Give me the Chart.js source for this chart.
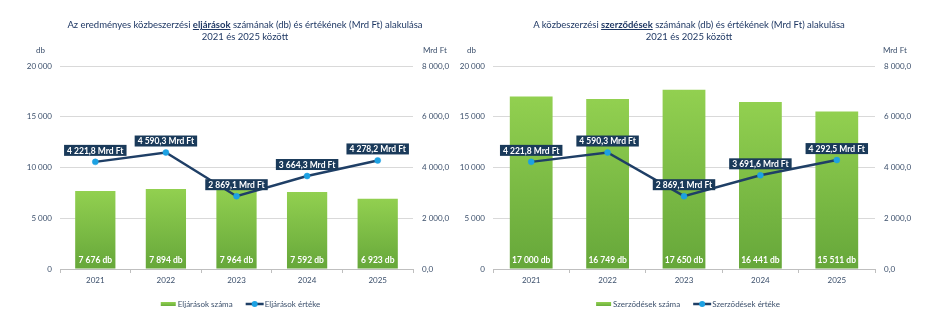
<!DOCTYPE html>
<html><head><meta charset="utf-8">
<script src="https://cdn.jsdelivr.net/npm/chart.js@4.4.1/dist/chart.umd.min.js"></script>
<style>
html,body{margin:0;padding:0;background:#fff;width:946px;height:331px;overflow:hidden;font-family:Lato,sans-serif;}
.wrap{position:absolute;top:0;height:331px;}
canvas{display:block;}
.title{position:absolute;text-align:center;color:#1F3864;font-size:9.5px;line-height:12px;white-space:nowrap;}
.title b{text-decoration:underline;}
.unit{position:absolute;top:45px;font-size:8px;line-height:10px;color:#3B4F6B;white-space:nowrap;}
</style></head>
<body>
<div class="wrap" style="left:0;width:455px"><canvas id="c1" width="455" height="331"></canvas></div>
<div class="wrap" style="left:455px;width:491px"><canvas id="c2" width="491" height="331"></canvas></div>
<div class="title" style="left:45px;width:400px;top:19px">Az eredményes közbeszerzési <b>eljárások</b> számának (db) és értékének (Mrd Ft) alakulása<br>2021 és 2025 között</div>
<div class="title" style="left:489px;width:400px;top:19px">A közbeszerzési <b>szerződések</b> számának (db) és értékének (Mrd Ft) alakulása<br>2021 és 2025 között</div>
<div class="unit" style="left:36px">db</div>
<div class="unit" style="left:423px">Mrd Ft</div>
<div class="unit" style="left:467px">db</div>
<div class="unit" style="left:883px">Mrd Ft</div>
<script>
const years = ['2021', '2022', '2023', '2024', '2025'];
const eljarasokSzama = [7676, 7894, 7964, 7592, 6923];
const eljarasokErteke = [4221.8, 4590.3, 2869.1, 3664.3, 4278.2];
const szerzodesekSzama = [17000, 16749, 17650, 16441, 15511];
const szerzodesekErteke = [4221.8, 4590.3, 2869.1, 3691.6, 4292.5];
const dbMax = 20000, dbStep = 5000;
const mrdMax = 8000, mrdStep = 2000;

function grp(s){ return s.replace(/\B(?=(\d{3})+(?!\d))/g, ' '); }
function fmtInt(v){ return grp(String(Math.round(v))); }
function fmtDec(v){ const p = v.toFixed(1).split('.'); return grp(p[0]) + ',' + p[1]; }

const TXT = '#3B4F6B';
const FONT = 'Lato';

const labelPlugin = {
  id: 'valueLabels',
  afterDatasetsDraw(chart){
    const ctx = chart.ctx;
    ctx.save();
    const mb = chart.getDatasetMeta(0);
    ctx.font = 'bold 8.5px ' + FONT;
    ctx.fillStyle = '#FFFFFF';
    ctx.textAlign = 'center';
    ctx.textBaseline = 'middle';
    mb.data.forEach((el, i) => {
      ctx.fillText(fmtInt(chart.data.datasets[0].data[i]) + ' db', el.x, el.base - 8);
    });
    const ml = chart.getDatasetMeta(1);
    ml.data.forEach((el, i) => {
      const t = fmtDec(chart.data.datasets[1].data[i]) + ' Mrd Ft';
      const w = ctx.measureText(t).width + 6;
      const h = 11;
      const bx = el.x - w / 2, by = el.y - 6 - h;
      ctx.fillStyle = '#1A3A5A';
      ctx.fillRect(bx, by, w, h);
      ctx.fillStyle = '#FFFFFF';
      ctx.fillText(t, el.x, by + h / 2 + 0.5);
    });
    ctx.restore();
  },
  afterDraw(chart){
    const ctx = chart.ctx;
    const ds = chart.data.datasets;
    ctx.save();
    ctx.font = '8px ' + FONT;
    ctx.textBaseline = 'middle';
    ctx.textAlign = 'left';
    const y = 304;
    const w0 = 15 + 2 + ctx.measureText(ds[0].label).width;
    const w1 = 18 + 1 + ctx.measureText(ds[1].label).width;
    const total = w0 + 13 + w1;
    const ca = chart.chartArea;
    let x = (ca.left + ca.right) / 2 + 4 - total / 2;
    const g = ctx.createLinearGradient(0, y - 2, 0, y + 2);
    g.addColorStop(0, '#92D050'); g.addColorStop(1, '#6AAE3C');
    ctx.fillStyle = g;
    ctx.fillRect(x, y - 2, 15, 4);
    ctx.fillStyle = TXT;
    ctx.fillText(ds[0].label, x + 17, y);
    x += w0 + 13;
    ctx.strokeStyle = '#1F3F66';
    ctx.lineWidth = 2.5;
    ctx.beginPath(); ctx.moveTo(x, y); ctx.lineTo(x + 18, y); ctx.stroke();
    ctx.fillStyle = '#1DA1E2';
    ctx.beginPath(); ctx.arc(x + 9, y, 3, 0, Math.PI * 2); ctx.fill();
    ctx.fillStyle = TXT;
    ctx.fillText(ds[1].label, x + 19, y);
    ctx.restore();
  }
};

function barGradient(c){
  const chart = c.chart;
  const ys = chart.scales.y;
  if (!ys || c.raw === undefined) return '#80C048';
  const top = ys.getPixelForValue(c.raw), bot = ys.getPixelForValue(0);
  if (!isFinite(top) || !isFinite(bot) || top === bot) return '#80C048';
  const g = chart.ctx.createLinearGradient(0, top, 0, bot);
  g.addColorStop(0, '#92D050');
  g.addColorStop(1, '#66A73A');
  return g;
}

function makeChart(id, yW, y1W, barVals, lineVals, barLabel, lineLabel, barPct){
  return new Chart(document.getElementById(id), {
    type: 'bar',
    data: {
      labels: years,
      datasets: [
        { type: 'bar', label: barLabel, data: barVals, yAxisID: 'y', order: 1,
          backgroundColor: barGradient, borderWidth: 0,
          categoryPercentage: 1, barPercentage: barPct },
        { type: 'line', label: lineLabel, data: lineVals, yAxisID: 'y1', order: 0,
          borderColor: '#1F3F66', borderWidth: 2.5, tension: 0,
          pointRadius: 3, pointBackgroundColor: '#1DA1E2', pointBorderColor: '#1DA1E2', pointBorderWidth: 0.5 }
      ]
    },
    options: {
      responsive: false,
      animation: false,
      events: [],
      layout: { padding: { top: 66, left: 0, right: 0, bottom: 0 } },
      plugins: { legend: { display: false }, tooltip: { enabled: false }, title: { display: false } },
      scales: {
        x: {
          offset: true,
          grid: { display: true, drawOnChartArea: false, drawTicks: true, tickLength: 4, color: '#BFBFBF' },
          border: { display: true, color: '#BFBFBF' },
          ticks: { color: TXT, font: { family: FONT, size: 8 }, padding: 3 },
          afterFit(s){ s.height = 62; }
        },
        y: {
          position: 'left', min: 0, max: dbMax,
          ticks: { stepSize: dbStep, color: TXT, font: { family: FONT, size: 8 }, padding: 8, callback: v => fmtInt(v) },
          grid: { color: '#D9D9D9', drawTicks: false },
          border: { display: false },
          afterFit(s){ s.width = yW; }
        },
        y1: {
          position: 'right', min: 0, max: mrdMax,
          ticks: { stepSize: mrdStep, color: TXT, font: { family: FONT, size: 8 }, padding: 9, callback: v => fmtDec(v) },
          grid: { display: false, drawTicks: false },
          border: { display: false },
          afterFit(s){ s.width = y1W; }
        }
      }
    },
    plugins: [labelPlugin]
  });
}

makeChart('c1', 60, 42, eljarasokSzama, eljarasokErteke, 'Eljárások száma', 'Eljárások értéke', 0.57);
makeChart('c2', 38, 71, szerzodesekSzama, szerzodesekErteke, 'Szerződések száma', 'Szerződések értéke', 0.56);
</script>
</body></html>
